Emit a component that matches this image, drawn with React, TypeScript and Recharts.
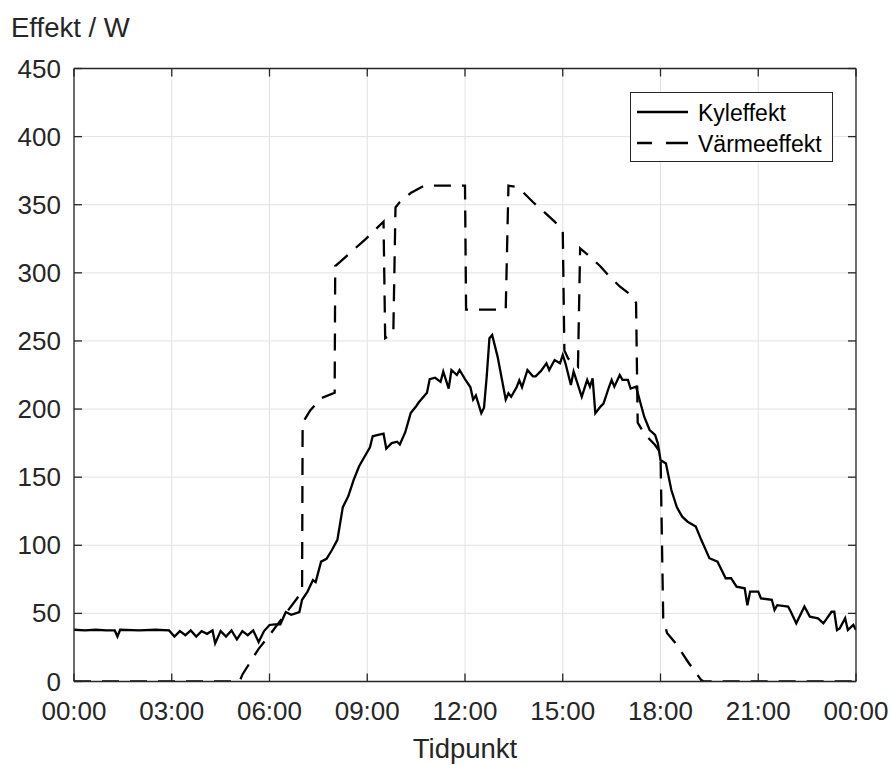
import React from 'react';
import { LineChart, Line, XAxis, YAxis, CartesianGrid, Legend } from 'recharts';

// ---- axis ticks ----
const timeTicks = [0, 180, 360, 540, 720, 900, 1080, 1260, 1440];
const timeTickLabels = ['00:00', '03:00', '06:00', '09:00', '12:00', '15:00', '18:00', '21:00', '00:00'];
const effektTicks = [0, 50, 100, 150, 200, 250, 300, 350, 400, 450];

// ---- Kyleffekt (minutes after midnight, W) ----
const kylTime = [0, 20, 40, 60, 75, 80, 85, 120, 150, 175, 185, 195, 205, 215, 225, 235, 245, 255, 260, 270, 280, 290, 300, 310, 320, 330, 340, 350, 360, 370, 380, 390, 400, 415, 420, 430, 440, 445, 455, 465, 475, 485, 495, 505, 515, 525, 535, 545, 550, 560, 570, 575, 585, 595, 600, 610, 620, 630, 635, 650, 655, 665, 675, 680, 690, 695, 705, 710, 720, 730, 735, 740, 750, 755, 760, 765, 770, 780, 795, 800, 805, 815, 820, 825, 835, 845, 850, 860, 870, 875, 885, 895, 900, 905, 915, 920, 925, 935, 945, 950, 955, 960, 970, 975, 985, 990, 995, 1005, 1010, 1020, 1025, 1035, 1040, 1050, 1060, 1070, 1075, 1080, 1090, 1100, 1110, 1120, 1130, 1145, 1155, 1170, 1185, 1200, 1210, 1220, 1235, 1240, 1245, 1260, 1265, 1285, 1290, 1295, 1315, 1320, 1330, 1345, 1355, 1370, 1380, 1395, 1400, 1405, 1410, 1420, 1425, 1435, 1440];
const kylValue = [38, 37.5, 38, 37.5, 37.5, 33, 38, 37.5, 38, 37.5, 33, 37, 34, 37.5, 33, 37, 35, 37.5, 28, 37, 33, 37.5, 31, 37, 34, 37.5, 29, 37, 41.5, 42, 42, 51, 49, 51, 60, 66, 74.5, 73, 88, 90, 96.5, 104, 128, 136, 148, 158, 165, 172, 180, 181, 182, 171, 175, 176, 174, 183, 197, 202, 205, 212, 222, 223, 220, 227.5, 215, 228.7, 225, 228.7, 222, 216, 207, 210, 197, 201, 224, 252, 254.4, 238.5, 207, 211.6, 209, 216, 221, 216, 228.7, 224, 224, 228, 233.6, 228.7, 236, 233.6, 239.7, 233.6, 217.7, 227.5, 221.4, 209, 221.4, 216.4, 222.6, 197, 202, 204, 216, 221.4, 216.4, 225, 221.4, 221.4, 215, 216.4, 209, 194.4, 184.6, 181, 175, 162.6, 160, 140.6, 128, 121, 117.3, 113.7, 104, 90.5, 88, 75.8, 75.8, 69.6, 68.4, 56, 66, 66, 61, 60, 52.5, 56, 55, 51.2, 42.7, 55, 47.6, 46.4, 42.7, 51.2, 51.2, 37.8, 39, 46.4, 37.8, 41.5, 37.8];

// ---- Värmeeffekt (minutes after midnight, W) ----
const varmeTime = [0, 305, 310, 340, 360, 390, 420, 421, 435, 455, 480, 481, 490, 515, 535, 570, 573, 588, 592, 600, 620, 645, 720, 722, 795, 800, 815, 825, 845, 865, 885, 900, 903, 910, 928, 932, 950, 970, 985, 1005, 1025, 1035, 1038, 1050, 1070, 1080, 1085, 1092, 1108, 1132, 1155, 1160, 1440];
const varmeValue = [0, 0, 5, 24, 34, 50, 66, 190, 199, 208, 212, 305, 308, 317, 324, 337.6, 252, 256, 348, 352, 358.6, 364, 364, 273, 273, 364, 363, 360, 352, 345, 337.6, 331.5, 243, 237, 231, 318, 312, 304.5, 297.7, 290, 283.8, 278, 190, 182, 173.6, 168, 46.4, 35.6, 28, 13.6, 1, 0, 0];

const kylData = kylTime.map((t, i) => ({ t, v: kylValue[i] }));
const varmeData = varmeTime.map((t, i) => ({ t, v: varmeValue[i] }));

const FONT = '"Liberation Sans", Arial, Helvetica, sans-serif';
const AXIS = '#262626';
const TICK_LINE = { stroke: AXIS, strokeWidth: 1.3 };
const AXIS_LINE = { stroke: AXIS, strokeWidth: 1.3 };

const fmtTime = (v: number) => {
  const i = timeTicks.indexOf(v);
  return i >= 0 ? timeTickLabels[i] : '';
};

const LeftTick = (props: any) => {
  const { x, y, payload } = props;
  return (
    <text x={x} y={y} textAnchor="end" dominantBaseline="central" fontSize={26} fill={AXIS} fontFamily={FONT}>
      {payload.value}
    </text>
  );
};

const BottomTick = (props: any) => {
  const { x, y, payload } = props;
  return (
    <text x={x} y={y} dy="0.71em" textAnchor="middle" fontSize={26} fill={AXIS} fontFamily={FONT}>
      {fmtTime(payload.value)}
    </text>
  );
};

const EmptyTick = () => <g />;

const LegendBox = () => (
  <div
    style={{
      boxSizing: 'border-box',
      width: 203,
      height: 70,
      border: `1.2px solid ${AXIS}`,
      background: '#fff',
    }}
  >
    <svg width={201} height={68} style={{ display: 'block' }}>
      <line x1={6} x2={57} y1={19} y2={19} stroke="#000" strokeWidth={2.3} />
      <text x={67} y={27.5} fontSize={23} fontFamily={FONT} fill="#000">Kyleffekt</text>
      <line x1={6} x2={57} y1={50} y2={50} stroke="#000" strokeWidth={2.3} strokeDasharray="15 14 22" />
      <text x={67} y={59} fontSize={23} fontFamily={FONT} fill="#000">Värmeeffekt</text>
    </svg>
  </div>
);

export default function App() {
  return (
    <div style={{ position: 'absolute', left: 0, top: 0, width: 891, height: 765, background: '#fff' }}>
      <LineChart width={891} height={765} margin={{ top: 67.5, right: 34, bottom: 53.5, left: 14 }}>
        <CartesianGrid stroke="#e2e2e2" strokeWidth={1} />
        <XAxis
          dataKey="t"
          type="number"
          domain={[0, 1440]}
          ticks={timeTicks}
          allowDataOverflow
          height={30}
          tickSize={-8}
          tickMargin={28}
          tick={<BottomTick />}
          axisLine={AXIS_LINE}
          tickLine={TICK_LINE}
          interval={0}
          label={(p: any) => {
            const vb = p.viewBox || {};
            return (
              <text x={vb.x + vb.width / 2} y={vb.y + 76} textAnchor="middle" fontSize={27.5} fill={AXIS} fontFamily={FONT}>
                Tidpunkt
              </text>
            );
          }}
        />
        <XAxis
          xAxisId="top"
          orientation="top"
          dataKey="t"
          type="number"
          domain={[0, 1440]}
          ticks={timeTicks}
          allowDataOverflow
          height={1}
          tickSize={-8}
          tickMargin={0}
          tick={<EmptyTick />}
          axisLine={AXIS_LINE}
          tickLine={TICK_LINE}
          interval={0}
        />
        <YAxis
          type="number"
          domain={[0, 450]}
          ticks={effektTicks}
          allowDataOverflow
          width={60}
          tickSize={-8}
          tickMargin={21}
          tick={<LeftTick />}
          axisLine={AXIS_LINE}
          tickLine={TICK_LINE}
          interval={0}
          label={(p: any) => {
            const vb = p.viewBox || {};
            return (
              <text x={vb.x - 3} y={vb.y - 32} textAnchor="start" fontSize={27.5} fill={AXIS} fontFamily={FONT}>
                Effekt / W
              </text>
            );
          }}
        />
        <YAxis
          yAxisId="right"
          orientation="right"
          type="number"
          domain={[0, 450]}
          ticks={effektTicks}
          allowDataOverflow
          width={1}
          tickSize={-8}
          tickMargin={0}
          tick={<EmptyTick />}
          axisLine={AXIS_LINE}
          tickLine={TICK_LINE}
          interval={0}
        />
        <Legend
          layout="vertical"
          align="center"
          verticalAlign="middle"
          wrapperStyle={{ left: 630, top: 91.5, width: 203, height: 70 }}
          content={() => <LegendBox />}
        />
        <Line
          data={kylData}
          dataKey="v"
          name="Kyleffekt"
          type="linear"
          stroke="#000"
          strokeWidth={2.3}
          dot={false}
          activeDot={false}
          isAnimationActive={false}
        />
        <Line
          xAxisId="top"
          yAxisId="right"
          data={varmeData}
          dataKey="v"
          name="Värmeeffekt"
          type="linear"
          stroke="#000"
          strokeWidth={2.3}
          strokeDasharray="17 11"
          dot={false}
          activeDot={false}
          isAnimationActive={false}
        />
      </LineChart>
    </div>
  );
}
